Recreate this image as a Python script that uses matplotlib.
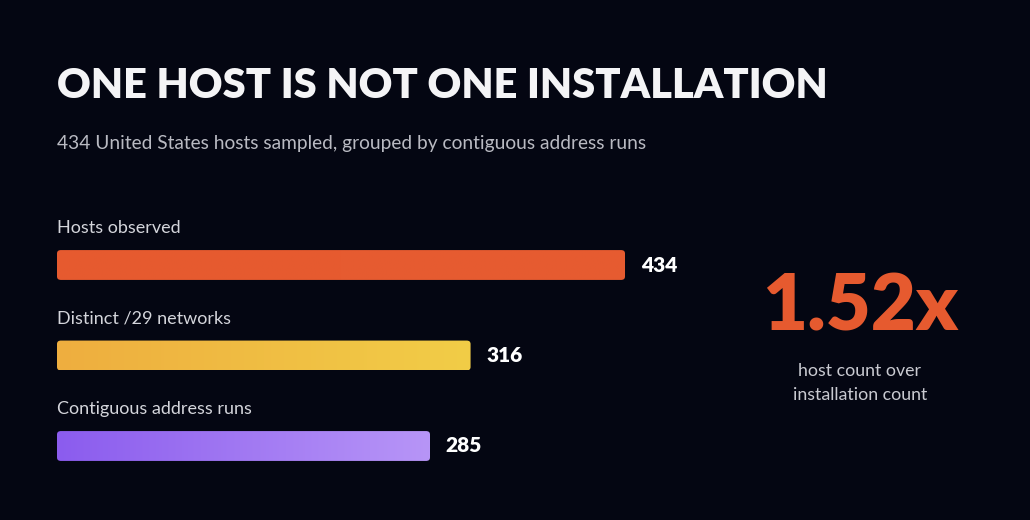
import matplotlib.pyplot as plt
import numpy as np
from matplotlib.colors import LinearSegmentedColormap
from matplotlib.patches import FancyBboxPatch

labels = ['Hosts observed', 'Distinct /29 networks', 'Contiguous address runs']
values = [434, 316, 285]
grad_colors = [('#E65A2F', '#E65C31'), ('#EEAE3F', '#F2CD47'), ('#8B5CEE', '#B795F7')]
ratio = '1.52x'

BG = '#040612'
FONT = 'Lato'

fig = plt.figure(figsize=(10.3, 5.2), dpi=100, facecolor=BG)

fig.text(57 / 1030, 1 - 86 / 520, 'ONE HOST IS NOT ONE INSTALLATION', color='#F4F4F6',
         fontsize=30, fontweight='heavy', family=FONT, va='center')
fig.text(57 / 1030, 1 - 143 / 520,
         '434 United States hosts sampled, grouped by contiguous address runs',
         color='#B9BAC2', fontsize=13.8, family=FONT, va='center')

# axes: x 0..434 spans px 57..625, rows spaced 90.5 px starting at y=265
ax = fig.add_axes([57 / 1030, 1 - 480 / 520, 568 / 1030, 280 / 520])
ax.set_facecolor(BG)
ax.set_xlim(0, max(values))
ax.set_ylim((480 - 265) / 90.5, (200 - 265) / 90.5)
ax.axis('off')

h = 0.33
for i, (lab, v, (c0, c1)) in enumerate(zip(labels, values, grad_colors)):
    cmap = LinearSegmentedColormap.from_list('g%d' % i, [c0, c1])
    im = ax.imshow(np.linspace(0, 1, 256)[None, :], cmap=cmap, aspect='auto',
                   extent=(0, v, i + h / 2, i - h / 2), zorder=2)
    clip = FancyBboxPatch((0, i - h / 2), v, h, boxstyle='round,pad=0,rounding_size=3',
                          transform=ax.transData, facecolor='none', edgecolor='none',
                          mutation_aspect=1 / 80)
    ax.add_patch(clip)
    im.set_clip_path(clip)
    ax.text(0, i - 0.41, lab, color='#D4D5DB', fontsize=13, family=FONT, va='center')
    ax.text(v + 12, i, str(v), color='white', fontsize=15, fontweight='heavy',
            family=FONT, va='center')

fig.text(860 / 1030, 1 - 308 / 520, ratio, color='#E65A2F', fontsize=56,
         fontweight='heavy', family=FONT, ha='center', va='center')
fig.text(860 / 1030, 1 - 383 / 520, 'host count over\ninstallation count', color='#C9CAD1',
         fontsize=12.8, family=FONT, ha='center', va='center', linespacing=1.6)

fig.savefig('out.png', dpi=100, facecolor=BG)
